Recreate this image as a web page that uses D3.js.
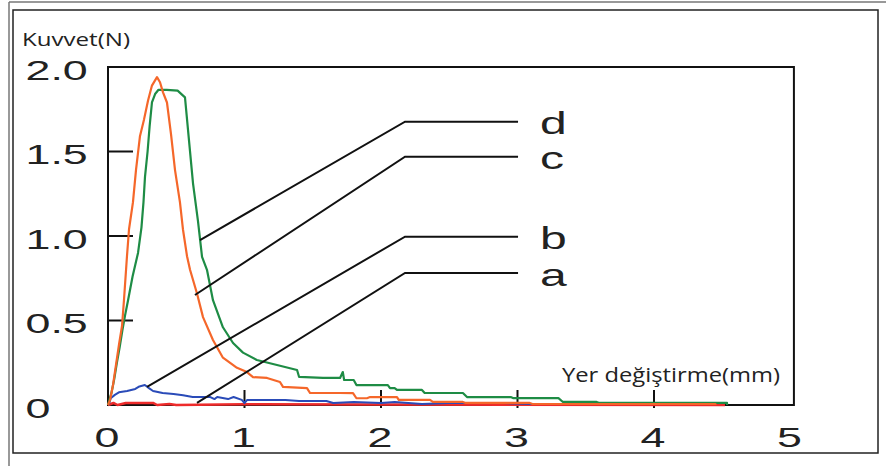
<!DOCTYPE html>
<html>
<head>
<meta charset="utf-8">
<script src="https://cdn.jsdelivr.net/npm/d3@7"></script>
<style>
  body { margin: 0; background: #fff; }
  svg { display: block; }
</style>
</head>
<body>
<div id="chart"></div>
<script>
// tick values
var xTicks = [0, 1, 2, 3, 4, 5];
var yTicks = [0, 0.5, 1.0, 1.5, 2.0];
var yTickLabels = ["0", "0.5", "1.0", "1.5", "2.0"];

// curve d (green)
var curveD = [
  [0, 0], [0.01, 0.03], [0.025, 0.07], [0.045, 0.15], [0.065, 0.25], [0.085, 0.34],
  [0.105, 0.44], [0.125, 0.53], [0.147, 0.62], [0.18, 0.76], [0.22, 0.9], [0.245, 1.05],
  [0.26, 1.2], [0.271, 1.35], [0.29, 1.5], [0.305, 1.65], [0.322, 1.79], [0.345, 1.84],
  [0.37, 1.865], [0.40, 1.865], [0.43, 1.865], [0.51, 1.86], [0.564, 1.82], [0.586, 1.63],
  [0.623, 1.31], [0.659, 1.09], [0.689, 0.876], [0.725, 0.80], [0.769, 0.62], [0.842, 0.46],
  [0.916, 0.367], [0.989, 0.31], [1.09, 0.266], [1.238, 0.237], [1.385, 0.207], [1.40, 0.166],
  [1.575, 0.16], [1.70, 0.16], [1.72, 0.195], [1.73, 0.148], [1.80, 0.148], [1.82, 0.118],
  [2.05, 0.118], [2.066, 0.10], [2.10, 0.10], [2.117, 0.089], [2.30, 0.089], [2.32, 0.071],
  [2.60, 0.071], [2.63, 0.047], [2.95, 0.047], [2.967, 0.041], [3.30, 0.041], [3.333, 0.018],
  [3.58, 0.018], [3.60, 0.012], [4.535, 0.012], [4.535, 0]
];

// curve c (orange)
var curveC = [
  [0, 0], [0.015, 0.03], [0.037, 0.12], [0.059, 0.24], [0.081, 0.36], [0.103, 0.47],
  [0.117, 0.62], [0.139, 0.88], [0.154, 1.04], [0.183, 1.20], [0.205, 1.39], [0.234, 1.59],
  [0.264, 1.69], [0.293, 1.80], [0.322, 1.89], [0.359, 1.94], [0.381, 1.91], [0.403, 1.85],
  [0.432, 1.79], [0.462, 1.60], [0.491, 1.39], [0.527, 1.20], [0.549, 1.04], [0.579, 0.88],
  [0.601, 0.80], [0.652, 0.66], [0.696, 0.52], [0.769, 0.385], [0.842, 0.28], [0.945, 0.22],
  [1.018, 0.195], [1.062, 0.165], [1.165, 0.16], [1.26, 0.136], [1.282, 0.107], [1.458, 0.10],
  [1.48, 0.071], [1.70, 0.071], [1.795, 0.07], [1.82, 0.04], [1.897, 0.04], [1.92, 0.047],
  [2.117, 0.047], [2.13, 0.03], [2.359, 0.03], [2.38, 0.018], [2.60, 0.018], [2.62, 0.012],
  [3.09, 0.012], [3.11, 0.006], [4.45, 0.006], [4.45, 0]
];

// curve b (blue)
var curveB = [
  [0, 0], [0.01, 0.012], [0.02, 0.04], [0.05, 0.06], [0.08, 0.075], [0.14, 0.083],
  [0.2, 0.095], [0.23, 0.11], [0.27, 0.118], [0.3, 0.1], [0.33, 0.083], [0.4, 0.071],
  [0.48, 0.065], [0.55, 0.058], [0.62, 0.047], [0.75, 0.047], [0.78, 0.035], [0.8, 0.047],
  [0.88, 0.035], [0.92, 0.047], [0.98, 0.03], [1.0, 0.012], [1.02, 0.03], [1.3, 0.03],
  [1.4, 0.024], [1.6, 0.024], [1.65, 0.012], [1.8, 0.018], [2.0, 0.012], [2.1, 0.018],
  [2.3, 0.006], [2.5, 0.012], [2.9, 0.012], [3.1, 0.006], [3.5, 0.006]
];

// curve a (red)
var curveA = [
  [0, 0], [0.04, 0.012], [0.07, 0.0], [0.13, 0.012], [0.33, 0.012], [0.36, 0],
  [0.45, 0.006], [0.5, 0], [1.0, 0.004], [4.52, 0]
];

// leader labels
var labelNames = ["d", "c", "b", "a"];
var labelLineY = [1.676, 1.469, 0.996, 0.781];
var pointerX = [0.674, 0.637, 0.286, 0.652];
var pointerY = [0.976, 0.651, 0.107, 0.012];
var elbowX = 2.176, lineEndX = 3.004, labelX = 3.165;

var width = 886, height = 466;

var svg = d3.select("#chart").append("svg")
  .attr("width", width)
  .attr("height", height);

var x = d3.scaleLinear().domain([0, 5]).range([108, 790.5]);
var y = d3.scaleLinear().domain([0, 2]).range([405, 67]);

// picture frame
svg.append("line").attr("x1", 9).attr("x2", width).attr("y1", 2).attr("y2", 2)
  .attr("stroke", "#777").attr("stroke-width", 1.5);
svg.append("line").attr("x1", 9).attr("x2", 9).attr("y1", 2).attr("y2", height)
  .attr("stroke", "#777").attr("stroke-width", 1.5);
svg.append("rect").attr("x", 13).attr("y", 10).attr("width", 865).attr("height", 443)
  .attr("fill", "none").attr("stroke", "#222").attr("stroke-width", 1.5);

// plot box
svg.append("rect")
  .attr("x", x(0)).attr("y", y(2))
  .attr("width", x(5.025) - x(0)).attr("height", y(0) - y(2))
  .attr("fill", "none").attr("stroke", "#111").attr("stroke-width", 2);

// y tick marks (inside) and labels
svg.selectAll(".ytick").data(yTicks.filter(function (d) { return d > 0 && d < 2; }))
  .enter().append("line")
  .attr("class", "ytick")
  .attr("x1", x(0)).attr("x2", x(0) + 25)
  .attr("y1", function (d) { return y(d); }).attr("y2", function (d) { return y(d); })
  .attr("stroke", "#111").attr("stroke-width", 2);

svg.selectAll(".ylab").data(yTicks)
  .enter().append("text")
  .attr("class", "ylab")
  .attr("transform", function (d) { return "translate(25.5," + (y(d) + 12.5) + ") scale(1.6,1)"; })
  .attr("font-family", "Liberation Sans, Arial, sans-serif")
  .attr("font-size", 28)
  .attr("fill", "#222")
  .text(function (d, i) { return yTickLabels[i]; });

// x tick marks and labels
svg.selectAll(".xtick").data(xTicks.filter(function (d) { return d > 0 && d < 5; }))
  .enter().append("line")
  .attr("class", "xtick")
  .attr("x1", function (d) { return x(d); }).attr("x2", function (d) { return x(d); })
  .attr("y1", y(0) - 15).attr("y2", y(0) + 3)
  .attr("stroke", "#111").attr("stroke-width", 2);

svg.selectAll(".xlab").data(xTicks)
  .enter().append("text")
  .attr("class", "xlab")
  .attr("transform", function (d) { return "translate(" + (x(d) - 1) + ",447) scale(1.6,1)"; })
  .attr("text-anchor", "middle")
  .attr("font-family", "Liberation Sans, Arial, sans-serif")
  .attr("font-size", 28)
  .attr("fill", "#222")
  .text(function (d) { return d; });

// axis titles
svg.append("text")
  .attr("x", 22).attr("y", 46)
  .attr("font-family", "Open Sans, sans-serif")
  .attr("font-size", 19)
  .attr("textLength", 108).attr("lengthAdjust", "spacingAndGlyphs")
  .attr("fill", "#222")
  .text("Kuvvet(N)");

svg.append("text")
  .attr("x", 562).attr("y", 382)
  .attr("font-family", "Open Sans, sans-serif")
  .attr("font-size", 20)
  .attr("textLength", 218).attr("lengthAdjust", "spacingAndGlyphs")
  .attr("fill", "#222")
  .text("Yer değiştirme(mm)");

// curves
var line = d3.line()
  .x(function (d) { return x(d[0]); })
  .y(function (d) { return y(d[1]); });

var series = [
  { data: curveA, color: "#ee2b2b", w: 2.5 },
  { data: curveB, color: "#2a4bb8", w: 2 },
  { data: curveD, color: "#1e8c45", w: 2.2 },
  { data: curveC, color: "#f5672a", w: 2.2 }
];

svg.selectAll(".curve").data(series)
  .enter().append("path")
  .attr("class", "curve")
  .attr("d", function (d) { return line(d.data); })
  .attr("fill", "none")
  .attr("stroke", function (d) { return d.color; })
  .attr("stroke-width", function (d) { return d.w; })
  .attr("stroke-linejoin", "round");

// leader lines
svg.selectAll(".leader").data(labelNames)
  .enter().append("polyline")
  .attr("class", "leader")
  .attr("points", function (d, i) {
    return [x(pointerX[i]), y(pointerY[i]), x(elbowX), y(labelLineY[i]), x(lineEndX), y(labelLineY[i])].join(" ");
  })
  .attr("fill", "none")
  .attr("stroke", "#111")
  .attr("stroke-width", 2);

svg.selectAll(".lname").data(labelNames)
  .enter().append("text")
  .attr("class", "lname")
  .attr("transform", function (d, i) { return "translate(" + x(labelX) + "," + (y(labelLineY[i]) + 12.5) + ") scale(1.55,1)"; })
  .attr("font-family", "Liberation Sans, Arial, sans-serif")
  .attr("font-size", 31)
  .attr("fill", "#222")
  .text(function (d) { return d; });
</script>
</body>
</html>
